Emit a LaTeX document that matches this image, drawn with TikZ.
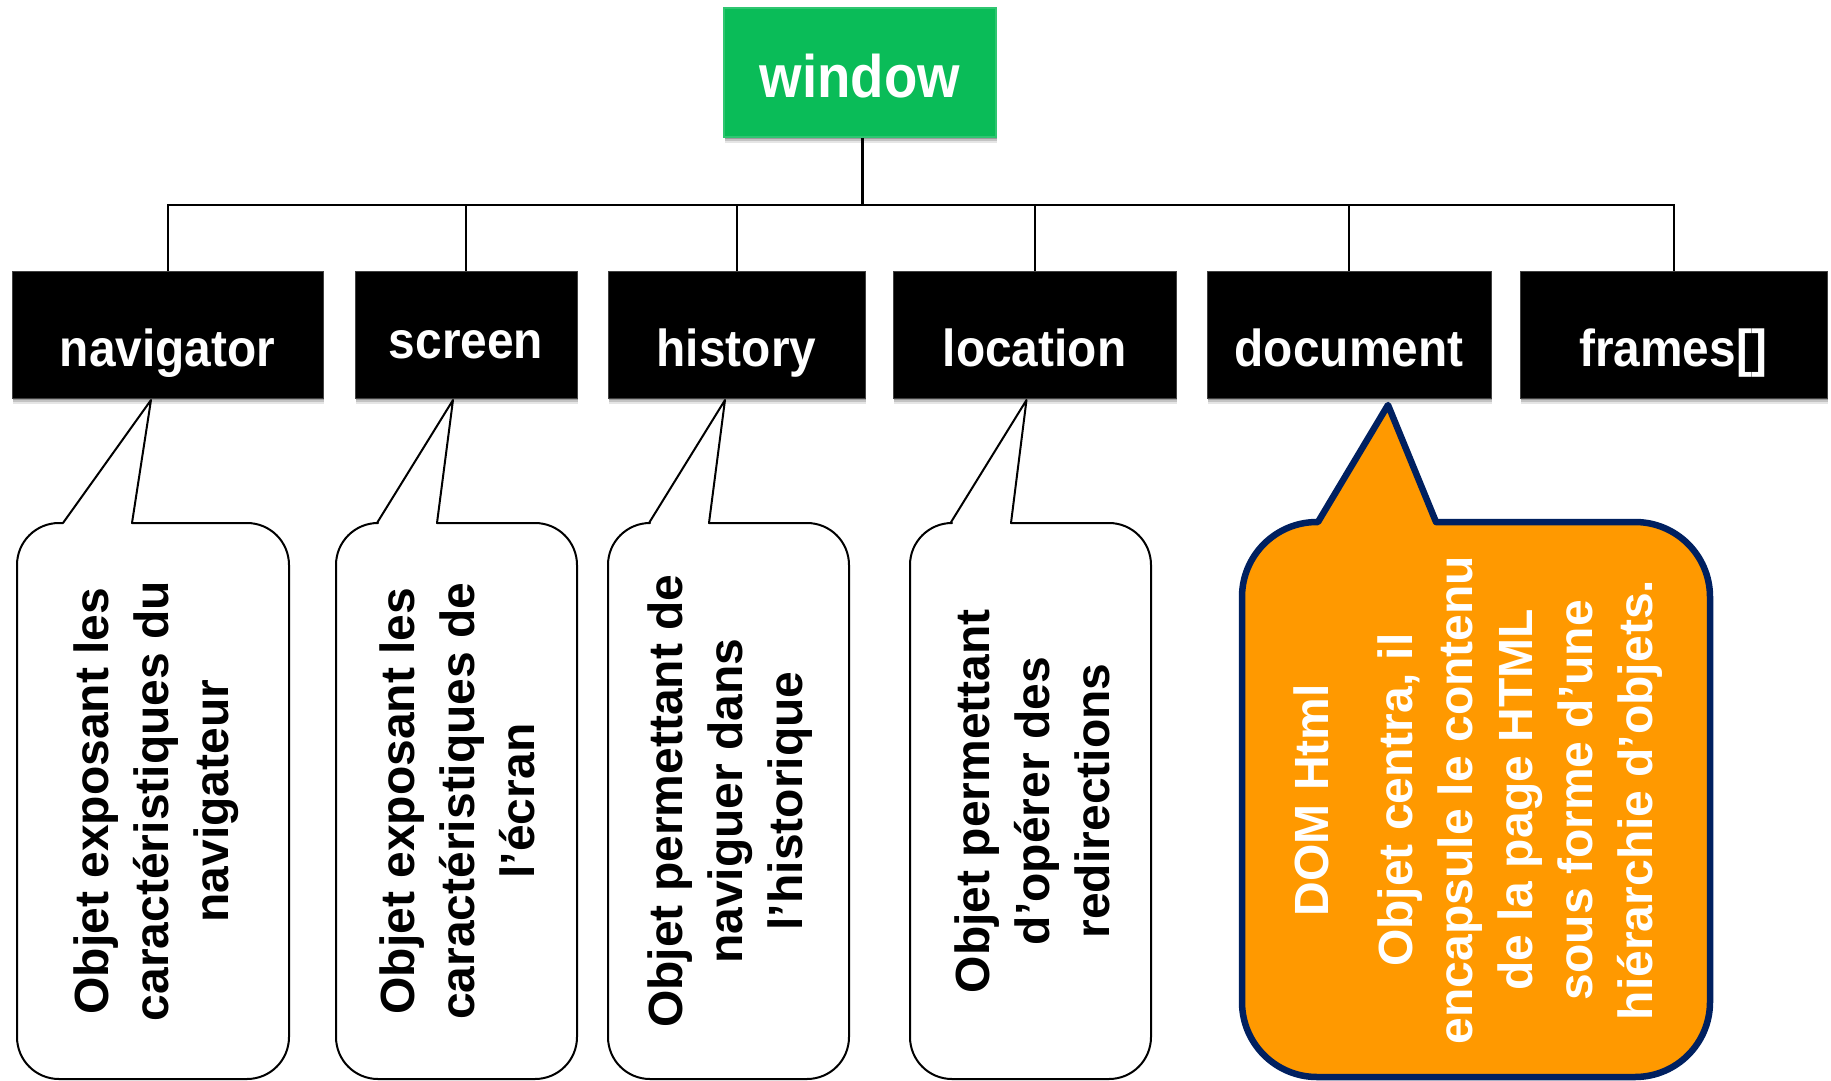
\documentclass[tikz,border=0pt]{standalone}
\usepackage{fontspec}
\setmainfont{Liberation Sans}
\usetikzlibrary{shadows}

\definecolor{wingreen}{RGB}{10,188,88}
\definecolor{bubbleorange}{RGB}{255,153,0}
\definecolor{bubblenavy}{RGB}{0,32,96}

% slightly condensed labels for the object boxes
\newcommand\narrowtext[2]{\scalebox{#1}[1]{#2}}

% speech bubble: style, x1, top, x2, bottom, corner radius, tail left x, tip, tail right x
\newcommand\speechbubble[9]{%
  \draw[#1] (#7,-#3) -- (#8) -- (#9,-#3) -- ({#4-#6},-#3)
    arc[start angle=90,end angle=0,radius=#6] -- (#4,{-#5+#6})
    arc[start angle=0,end angle=-90,radius=#6] -- ({#2+#6},-#5)
    arc[start angle=-90,end angle=-180,radius=#6] -- (#2,{-#3-#6})
    arc[start angle=180,end angle=90,radius=#6] -- cycle;}

\begin{document}
\begin{tikzpicture}[x=1pt,y=1pt,
  softshadow/.style={
    general shadow={shadow xshift=1pt, shadow yshift=-6pt, fill=black, opacity=0.10},
    general shadow={shadow xshift=1pt, shadow yshift=-4pt, fill=black, opacity=0.15},
    general shadow={shadow xshift=0.5pt, shadow yshift=-2pt, fill=black, opacity=0.2}},
  objbox/.style={rectangle, fill=black, draw=black!75, line width=1pt, inner sep=0pt,
    minimum height=127pt, softshadow},
  rootbox/.style={rectangle, fill=wingreen, draw=wingreen!85!white, line width=1.5pt, inner sep=0pt,
    minimum width=272pt, minimum height=129pt, softshadow},
  boxlabel/.style={anchor=base, inner sep=0pt, text=white,
    font=\fontsize{52}{60}\selectfont\bfseries},
  rootlabel/.style={anchor=base, inner sep=0pt, text=white,
    font=\fontsize{60}{70}\selectfont\bfseries},
  bus/.style={line width=2pt, draw=black},
  trunk/.style={line width=3pt, draw=black},
  plainbubble/.style={draw=black, fill=white, line width=2pt, line join=round},
  dombubble/.style={draw=bubblenavy, fill=bubbleorange, line width=6.5pt, line join=round},
  bubbletext/.style={rotate=90, align=center, inner sep=0pt,
    font=\fontsize{48}{60}\selectfont\bfseries},
]
\useasboundingbox (0,0) rectangle (1831,-1081);

% root object
\node[rootbox] (win) at (860,-72.5) {};
\node[rootlabel] (winT) at (860,-97) {\narrowtext{0.91}{window}};

% child objects
\node[objbox, minimum width=311pt] (nav) at (167.5,-334.5) {};
\node[objbox, minimum width=222pt] (scr) at (466,-334.5) {};
\node[objbox, minimum width=257pt] (his) at (736.5,-334.5) {};
\node[objbox, minimum width=283pt] (loc) at (1034.5,-334.5) {};
\node[objbox, minimum width=284pt] (doc) at (1349,-334.5) {};
\node[objbox, minimum width=307pt] (frm) at (1673.5,-334.5) {};

\node[boxlabel] (navT) at (167.5,-366) {\narrowtext{0.92}{navigator}};
\node[boxlabel] (scrT) at (466,-358.5) {\narrowtext{0.92}{screen}};
\node[boxlabel] (hisT) at (736.5,-366.5) {\narrowtext{0.92}{history}};
\node[boxlabel] (locT) at (1034.5,-366.5) {\narrowtext{0.92}{location}};
\node[boxlabel] (docT) at (1349,-366.5) {\narrowtext{0.92}{document}};
\node[boxlabel] (frmT) at (1673.5,-366.5) {\narrowtext{0.92}{frames[]}};

% tree connectors
\coordinate (bus) at (862,-205);
\draw[trunk] (win.south -| bus) -- (bus);
\foreach \child in {nav,scr,his,loc,doc,frm}
  \draw[bus] (bus) -| (\child.north);

% bubble tips under the boxes
\coordinate (navTip) at (151,-400);
\coordinate (scrTip) at (453,-400);
\coordinate (hisTip) at (725,-400);
\coordinate (locTip) at (1026.5,-400);
\coordinate (docTip) at (1388,-405);

% description bubbles
\speechbubble{plainbubble}{17}{523}{289}{1079}{42}{63}{navTip}{132}
\speechbubble{plainbubble}{336}{523}{577}{1079}{42}{377}{scrTip}{437}
\speechbubble{plainbubble}{608}{523}{849}{1079}{42}{649}{hisTip}{709}
\speechbubble{plainbubble}{910}{523}{1151}{1079}{42}{950.5}{locTip}{1011}
\speechbubble{dombubble}{1242}{522}{1710}{1077}{75}{1318}{docTip}{1436}

\node[bubbletext] (navD) at (156,-801) {Objet exposant les\\caractéristiques  du\\navigateur};
\node[bubbletext] (scrD) at (457,-801) {Objet exposant les\\caractéristiques  de\\l’écran};
\node[bubbletext] (hisD) at (730,-801) {Objet permettant de\\naviguer dans\\l’historique};
\node[bubbletext] (locD) at (1032,-801) {Objet permettant\\d’opérer des\\redirections};
\node[bubbletext, text=white] (docD) at (1478,-800)
  {DOM Html\\[24pt]Objet centra, il\\encapsule le contenu\\de la page HTML\\sous forme d’une\\hiérarchie d’objets.};
\end{tikzpicture}
\end{document}
